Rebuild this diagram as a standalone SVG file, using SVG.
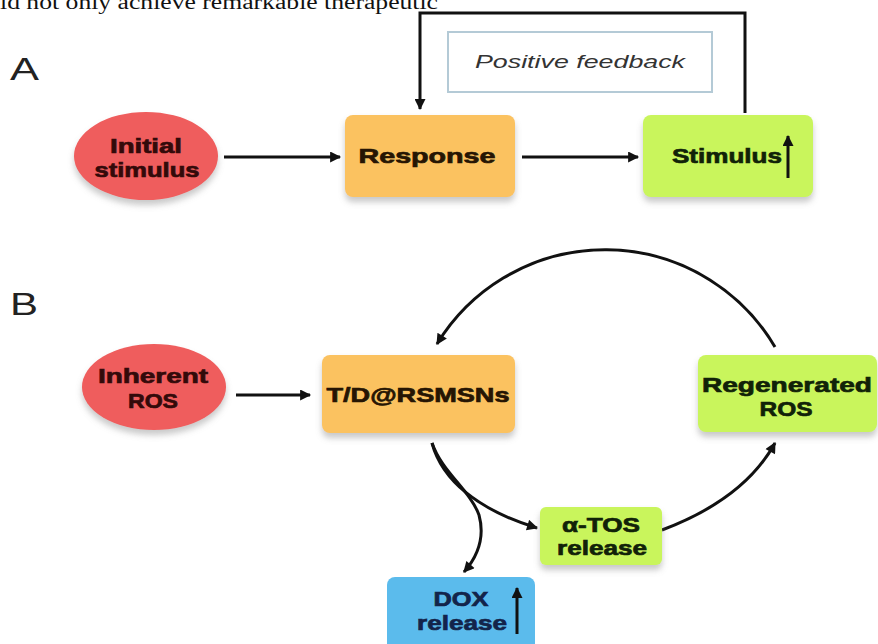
<svg xmlns="http://www.w3.org/2000/svg" width="878" height="644" viewBox="0 0 878 644">
<defs>
<marker id="ah" viewBox="0 0 10 10" refX="9" refY="5" markerUnits="userSpaceOnUse" markerWidth="13" markerHeight="11" orient="auto">
<path d="M0,0 L10,5 L0,10 z" fill="#111"/>
</marker>
<filter id="sh" x="-20%" y="-20%" width="140%" height="150%">
<feDropShadow dx="0" dy="5" stdDeviation="3" flood-color="#888" flood-opacity="0.45"/>
</filter>
<style>
.lbl{font-family:"Liberation Sans",Arial,sans-serif;font-weight:bold;font-size:21px;text-anchor:middle;stroke-width:0.7px}
.red{fill:#ef5d5d}
.org{fill:#fbc260}
.lim{fill:#c9f55b}
.blu{fill:#5bbbec}
.tr{fill:#330a0a;stroke:#330a0a}
.to{fill:#261503;stroke:#261503}
.tl{fill:#112208;stroke:#112208}
.tb{fill:#13244a;stroke:#13244a}
.ln{fill:none;stroke:#111;stroke-width:3}
.pl{font-family:"Liberation Sans",Arial,sans-serif;font-size:31px;fill:#222}
</style>
</defs>
<rect width="878" height="644" fill="#fff"/>
<text x="0" y="9" font-family="'Liberation Serif','Times New Roman',serif" font-size="20" fill="#111" textLength="438" lengthAdjust="spacingAndGlyphs">ld not only achieve remarkable therapeutic</text>
<text class="pl" x="10" y="80" textLength="29" lengthAdjust="spacingAndGlyphs">A</text>
<text class="pl" x="10" y="315" textLength="28" lengthAdjust="spacingAndGlyphs">B</text>

<g id="connectors">
<path class="ln" d="M745,113 V13 H420 V109" marker-end="url(#ah)"/>
<path class="ln" d="M224,157 H340" marker-end="url(#ah)"/>
<path class="ln" d="M522,157 H638" marker-end="url(#ah)"/>
<path class="ln" d="M236,395 H310" marker-end="url(#ah)"/>
<path class="ln" d="M775,347 A197,197 0 0 0 437,344" marker-end="url(#ah)"/>
<path class="ln" d="M432,443 C442,480 478,510 537,528" marker-end="url(#ah)"/>
<path class="ln" d="M432,443 C442,472 470,490 479,515 C485,537 478,556 464,572" marker-end="url(#ah)"/>
<path class="ln" d="M662,530 C710,512 752,485 775,443" marker-end="url(#ah)"/>
</g>

<g id="positive-feedback">
<rect x="448" y="32" width="264" height="60" fill="#fff" stroke="#b4cad6" stroke-width="2"/>
<text x="580" y="68" font-family="'Liberation Sans',Arial,sans-serif" font-style="italic" font-size="19" fill="#333" text-anchor="middle" textLength="210" lengthAdjust="spacingAndGlyphs">Positive feedback</text>
</g>

<g id="initial-stimulus">
<ellipse class="red" cx="146" cy="156" rx="72" ry="44" filter="url(#sh)"/>
<text class="lbl tr" x="146" y="153" textLength="72" lengthAdjust="spacingAndGlyphs">Initial</text>
<text class="lbl tr" x="147" y="177" textLength="105" lengthAdjust="spacingAndGlyphs">stimulus</text>
</g>

<g id="response">
<rect class="org" x="345" y="115" width="170" height="82" rx="8" filter="url(#sh)"/>
<text class="lbl to" x="427" y="163" textLength="137" lengthAdjust="spacingAndGlyphs">Response</text>
</g>

<g id="stimulus">
<rect class="lim" x="643" y="115" width="170" height="82" rx="8" filter="url(#sh)"/>
<text class="lbl tl" x="727" y="163" textLength="110" lengthAdjust="spacingAndGlyphs">Stimulus</text>
<path class="ln" d="M788,178 V136" marker-end="url(#ah)"/>
</g>

<g id="inherent-ros">
<ellipse class="red" cx="154" cy="387" rx="72" ry="43" filter="url(#sh)"/>
<text class="lbl tr" x="153" y="383" textLength="110" lengthAdjust="spacingAndGlyphs">Inherent</text>
<text class="lbl tr" x="153" y="408" textLength="50" lengthAdjust="spacingAndGlyphs">ROS</text>
</g>

<g id="tdrsmsns">
<rect class="org" x="322" y="355" width="193" height="78" rx="8" filter="url(#sh)"/>
<text class="lbl to" x="418" y="402" font-size="23" textLength="183" lengthAdjust="spacingAndGlyphs">T/D@RSMSNs</text>
</g>

<g id="regenerated-ros">
<rect class="lim" x="698" y="355" width="179" height="77" rx="8" filter="url(#sh)"/>
<text class="lbl tl" x="787" y="392" font-size="20" textLength="170" lengthAdjust="spacingAndGlyphs">Regenerated</text>
<text class="lbl tl" x="786" y="416" font-size="20" textLength="53" lengthAdjust="spacingAndGlyphs">ROS</text>
</g>

<g id="atos-release">
<rect class="lim" x="540" y="507" width="122" height="58" rx="6" filter="url(#sh)"/>
<text class="lbl tl" x="601" y="532" textLength="78" lengthAdjust="spacingAndGlyphs">α-TOS</text>
<text class="lbl tl" x="602" y="555" textLength="90" lengthAdjust="spacingAndGlyphs">release</text>
</g>

<g id="dox-release">
<rect class="blu" x="387" y="577" width="148" height="75" rx="8"/>
<text class="lbl tb" x="461" y="606" textLength="55" lengthAdjust="spacingAndGlyphs">DOX</text>
<text class="lbl tb" x="462" y="630" textLength="90" lengthAdjust="spacingAndGlyphs">release</text>
<path class="ln" d="M517,634 V588" marker-end="url(#ah)"/>
</g>
</svg>
